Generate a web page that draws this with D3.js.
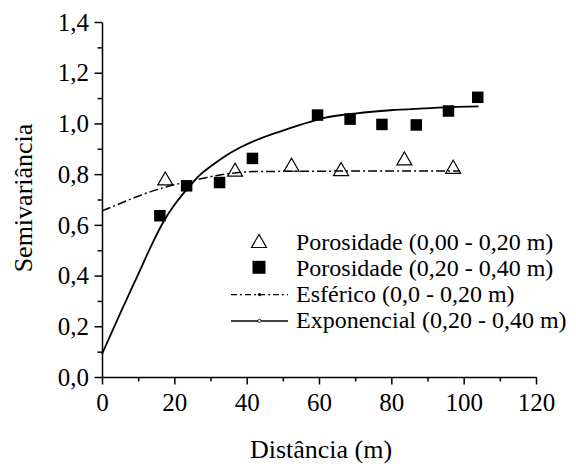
<!DOCTYPE html>
<html>
<head>
<meta charset="utf-8">
<script src="https://cdn.jsdelivr.net/npm/d3@7/dist/d3.min.js"></script>
</head>
<body style="margin:0">
<svg id="chart" width="576" height="466" font-family="Liberation Serif"></svg>
<script>
// ---- data ----
const xMajorTicks = [0, 20, 40, 60, 80, 100, 120];
const xMinorTicks = [10, 30, 50, 70, 90, 110];
const yMajorTicks = [0, 0.2, 0.4, 0.6, 0.8, 1.0, 1.2, 1.4];
const yMinorTicks = [0.1, 0.3, 0.5, 0.7, 0.9, 1.1, 1.3];

// Porosidade (0,00 - 0,20 m) - open triangles
const poro020X = [17.5, 36.8, 52.4, 66.1, 83.6, 97.1];
const poro020Y = [0.783, 0.818, 0.837, 0.820, 0.862, 0.829];

// Porosidade (0,20 - 0,40 m) - filled squares
const poro2040X = [16.0, 23.4, 32.5, 41.6, 59.6, 68.6, 77.4, 86.9, 95.8, 103.9];
const poro2040Y = [0.636, 0.754, 0.767, 0.862, 1.033, 1.017, 0.996, 0.994, 1.049, 1.103];

// Esferico (0,0 - 0,20 m) - dash-dot model curve (read points)
const esfX = [0, 5, 10.5, 15, 19.7, 25, 29, 35, 42, 50, 70, 99];
const esfY = [0.655, 0.684, 0.716, 0.738, 0.757, 0.774, 0.787, 0.802, 0.810, 0.811, 0.812, 0.812];

// Exponencial (0,20 - 0,40 m) - solid model curve (read points)
const expX = [0, 5, 10, 14.2, 17.0, 19.7, 22.5, 24.8, 27.1, 29.9, 33.6, 38.2, 43.7, 49.2, 55, 61.2, 70.4, 79.7, 88.9, 98.1, 104.1];
const expY = [0.09, 0.25, 0.405, 0.535, 0.612, 0.672, 0.724, 0.762, 0.797, 0.829, 0.867, 0.905, 0.940, 0.968, 0.995, 1.021, 1.040, 1.052, 1.059, 1.065, 1.067];

const legendLabels = [
  "Porosidade (0,00 - 0,20 m)",
  "Porosidade (0,20 - 0,40 m)",
  "Esférico (0,0 - 0,20 m)",
  "Exponencial (0,20 - 0,40 m)"
];
const xTitle = "Distância (m)";
const yTitle = "Semivariância";

// ---- drawing ----
const svg = d3.select("#chart");
const x = d3.scaleLinear().domain([0, 120]).range([102, 536]);
const y = d3.scaleLinear().domain([0, 1.4]).range([377, 22]);
const fmtY = v => d3.format(".1f")(v).replace(".", ",");
const axisStroke = 1.5;

// minor ticks
svg.append("g").attr("transform", "translate(0,377)")
  .call(d3.axisBottom(x).tickValues(xMinorTicks).tickSize(4.5).tickSizeOuter(0).tickFormat(""))
  .call(g => g.select(".domain").remove());
svg.append("g").attr("transform", "translate(102,0)")
  .call(d3.axisLeft(y).tickValues(yMinorTicks).tickSize(4.5).tickSizeOuter(0).tickFormat(""))
  .call(g => g.select(".domain").remove());

// major axes
const gx = svg.append("g").attr("transform", "translate(0,377)")
  .call(d3.axisBottom(x).tickValues(xMajorTicks).tickSize(7.5).tickSizeOuter(0).tickPadding(8.5).tickFormat(d3.format("d")));
const gy = svg.append("g").attr("transform", "translate(102,0)")
  .call(d3.axisLeft(y).tickValues(yMajorTicks).tickSize(7.5).tickSizeOuter(0).tickPadding(5.5).tickFormat(fmtY));

// drop the axis' own font attributes so the svg-level font applies
svg.selectAll("g").attr("font-family", null).attr("font-size", null);
svg.selectAll(".tick line").attr("stroke", "#000").attr("stroke-width", axisStroke);
svg.selectAll(".domain").attr("stroke", "#000").attr("stroke-width", axisStroke);
gx.selectAll(".tick text").attr("font-size", 25).attr("fill", "#000");
gy.selectAll(".tick text").attr("font-size", 25).attr("fill", "#000").attr("dy", "0.33em");

// axis titles
svg.append("text").attr("x", 321).attr("y", 458).attr("text-anchor", "middle")
  .attr("font-size", 26).text(xTitle);
svg.append("text").attr("transform", "translate(32,198) rotate(-90)").attr("text-anchor", "middle")
  .attr("font-size", 26).text(yTitle);

// curves
const line = d3.line().x(d => x(d[0])).y(d => y(d[1])).curve(d3.curveMonotoneX);
svg.append("path").datum(esfX.map((v, i) => [v, esfY[i]]))
  .attr("d", line).attr("fill", "none").attr("stroke", "#000").attr("stroke-width", 1.5)
  .attr("stroke-dasharray", "9,3,2,3");
svg.append("path").datum(expX.map((v, i) => [v, expY[i]]))
  .attr("d", line).attr("fill", "none").attr("stroke", "#000").attr("stroke-width", 1.8);

// markers
const sqSize = 11.5;
svg.append("g").selectAll("rect").data(poro2040X.map((v, i) => [v, poro2040Y[i]])).join("rect")
  .attr("x", d => x(d[0]) - sqSize / 2).attr("y", d => y(d[1]) - sqSize / 2)
  .attr("width", sqSize).attr("height", sqSize).attr("fill", "#000");

const triW = 15, triH = 13;
const triPath = (cx, cy) => `M${cx - triW / 2},${cy + triH / 2}L${cx + triW / 2},${cy + triH / 2}L${cx},${cy - triH / 2}Z`;
svg.append("g").selectAll("path").data(poro020X.map((v, i) => [v, poro020Y[i]])).join("path")
  .attr("d", d => triPath(x(d[0]), y(d[1])))
  .attr("fill", "none").attr("stroke", "#000").attr("stroke-width", 1.2);

// legend
const legX = 296, legY0 = 249.5, legDy = 26.3;
const leg = svg.append("g");
legendLabels.forEach((t, i) => {
  leg.append("text").attr("x", legX).attr("y", legY0 + i * legDy).attr("font-size", 24).text(t);
});
const symCx = 259;
leg.append("path").attr("d", triPath(symCx, legY0 - 8.5))
  .attr("fill", "none").attr("stroke", "#000").attr("stroke-width", 1.2);
leg.append("rect").attr("x", symCx - 6.5).attr("y", legY0 + legDy - 8.5 - 6.5)
  .attr("width", 13).attr("height", 13).attr("fill", "#000");
const l3y = legY0 + 2 * legDy - 7.5;
leg.append("line").attr("x1", 231).attr("x2", 288).attr("y1", l3y).attr("y2", l3y)
  .attr("stroke", "#000").attr("stroke-width", 1.3).attr("stroke-dasharray", "6,3,2,3");
leg.append("circle").attr("cx", 259.5).attr("cy", l3y).attr("r", 1.6).attr("fill", "#000");
const l4y = legY0 + 3 * legDy - 7.5;
leg.append("line").attr("x1", 231).attr("x2", 288).attr("y1", l4y).attr("y2", l4y)
  .attr("stroke", "#000").attr("stroke-width", 1.5);
leg.append("circle").attr("cx", 259.5).attr("cy", l4y).attr("r", 1.6).attr("fill", "#fff")
  .attr("stroke", "#000").attr("stroke-width", 0.8);
</script>
</body>
</html>
